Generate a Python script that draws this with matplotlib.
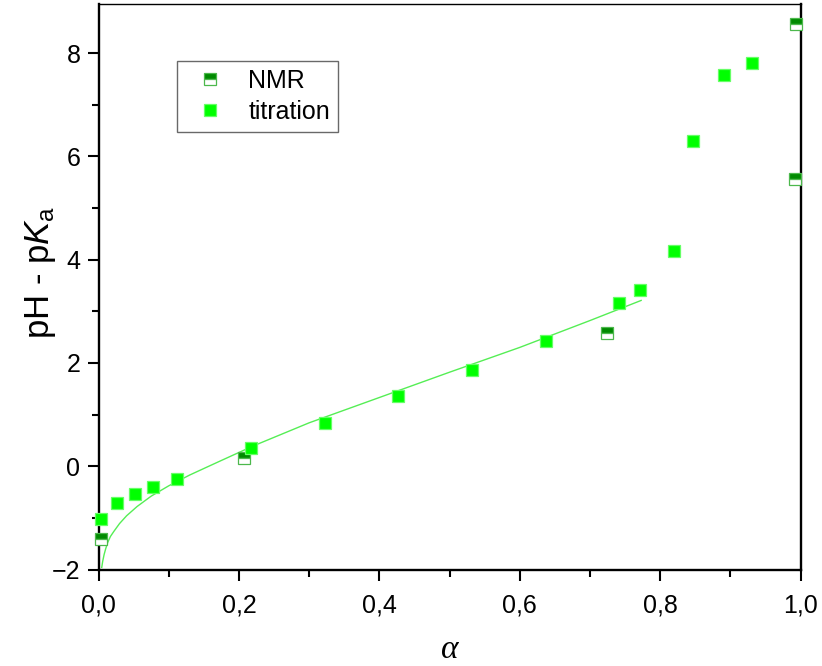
import numpy as np
import matplotlib
matplotlib.use("Agg")
from matplotlib import pyplot as plt
from matplotlib.ticker import MultipleLocator, FuncFormatter

plt.rcParams['font.family'] = ['Liberation Sans', 'DejaVu Sans']
plt.rcParams['mathtext.fontset'] = 'custom'
plt.rcParams['mathtext.rm'] = 'Liberation Sans'
plt.rcParams['mathtext.it'] = 'Liberation Sans:italic'

# titration points
alpha_tit = [0.004, 0.026, 0.052, 0.078, 0.112, 0.217, 0.322, 0.427, 0.532,
             0.637, 0.741, 0.772, 0.820, 0.847, 0.891, 0.931]
y_tit = [-1.02, -0.72, -0.535, -0.40, -0.24, 0.343, 0.84, 1.357, 1.86,
         2.42, 3.17, 3.42, 4.16, 6.29, 7.57, 7.81]

# NMR points
alpha_nmr = [0.003, 0.207, 0.725, 0.992, 0.994]
y_nmr = [-1.40, 0.15, 2.57, 5.57, 8.56]

# fitted curve
alpha_fit = [0.0046, 0.006, 0.008, 0.010, 0.013, 0.017, 0.022, 0.030, 0.040,
             0.055, 0.075, 0.100, 0.130, 0.170, 0.220, 0.300, 0.400, 0.500,
             0.600, 0.700, 0.773]
y_fit = [-1.96, -1.84, -1.71, -1.61, -1.48, -1.36, -1.26, -1.11, -0.96,
         -0.78, -0.58, -0.38, -0.17, 0.08, 0.39, 0.84, 1.33, 1.82,
         2.30, 2.82, 3.21]

W, H = 822, 666
fig = plt.figure(figsize=(W / 100, H / 100), dpi=100)
ax = fig.add_axes([98.5 / W, (H - 569.5) / H, 702 / W, 565.5 / H])

ax.plot(alpha_fit, y_fit, color='#55ee55', lw=1.0, zorder=2)
ax.plot(alpha_nmr, y_nmr, ls='none', marker='s', ms=8.2, fillstyle='top',
        markerfacecolor='#008a00', markerfacecoloralt='white',
        markeredgecolor='#4cb84c', markeredgewidth=0.9, label='NMR',
        zorder=3, clip_on=False)
ax.plot(alpha_tit, y_tit, ls='none', marker='s', ms=8.2,
        markerfacecolor='#00ff00', markeredgecolor='#66ff66',
        markeredgewidth=0.9, label='titration', zorder=4, clip_on=False)

ax.set_xlim(0, 1)
ax.set_ylim(-2, 8.95)
ax.xaxis.set_major_locator(MultipleLocator(0.2))
ax.xaxis.set_minor_locator(MultipleLocator(0.1))
ax.yaxis.set_major_locator(MultipleLocator(2))
ax.yaxis.set_minor_locator(MultipleLocator(1))
ax.xaxis.set_major_formatter(FuncFormatter(lambda v, p: f"{v:.1f}".replace('.', ',')))

ax.tick_params(which='both', direction='out', top=False, right=False,
               labelsize=18, width=1.5)
ax.tick_params(which='major', length=8)
ax.tick_params(which='minor', length=5)
ax.tick_params(axis='x', pad=9)
ax.tick_params(axis='y', pad=5)
for side in ['left', 'bottom', 'right']:
    ax.spines[side].set_linewidth(1.7)
ax.spines['top'].set_linewidth(1.0)

ax.set_xlabel('α', fontsize=24, fontstyle='italic',
              family=['Liberation Serif', 'DejaVu Serif'])
ax.xaxis.set_label_coords(0.5, -0.115)
ax.set_ylabel(r'pH - p$K_{\mathrm{a}}$', fontsize=25)
ax.yaxis.set_label_coords(-0.058, 0.525)

leg = ax.legend(loc='upper left', bbox_to_anchor=(177 / W, 1 - 61 / H),
                bbox_transform=fig.transFigure, borderaxespad=0,
                frameon=True, fancybox=False, fontsize=18, handlelength=2.0,
                handletextpad=0.55, borderpad=0.3, labelspacing=0.3,
                markerscale=1.0)
leg.get_frame().set_edgecolor('#444444')
leg.get_frame().set_linewidth(1.0)

fig.savefig('out.png', dpi=100)
